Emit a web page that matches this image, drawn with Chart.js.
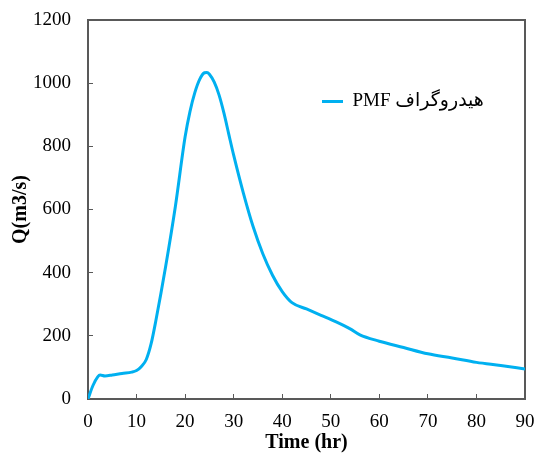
<!DOCTYPE html>
<html>
<head>
<meta charset="utf-8">
<script src="https://cdn.jsdelivr.net/npm/chart.js@4"></script>
<style>
  body { margin: 0; background: #fff; }
  canvas { display: block; }
</style>
</head>
<body>
<canvas id="hydro" width="536" height="456"></canvas>
<script>
// hydrograph
const timeHr = [0, 1, 2, 2.5, 3.5, 5, 7, 9, 10, 11, 12, 13, 14, 16, 18, 20, 21, 22, 23, 24, 24.5, 25, 26, 27, 28, 29, 30, 32, 34, 36, 38, 40, 42, 45, 48, 51, 54, 56, 60, 65, 70, 75, 80, 85, 90];
const flowQ = [0, 42, 70, 76, 73, 76, 81, 85, 90, 103, 125, 175, 250, 420, 610, 830, 910, 970, 1012, 1033, 1034, 1028, 1003, 962, 905, 838, 772, 652, 546, 460, 392, 340, 305, 285, 265, 245, 222, 203, 183, 163, 143, 130, 116, 106, 95];
const xTicks = [0, 10, 20, 30, 40, 50, 60, 70, 80, 90];
const yTicks = [0, 200, 400, 600, 800, 1000, 1200];
const seriesLabel = "هیدروگراف PMF";

const serif = "'Liberation Serif', 'DejaVu Sans', serif";
const axisGray = "#595959";

const points = timeHr.map((t, i) => ({ x: t, y: flowQ[i] }));

// outline around the plot area
const frame = {
  id: "frame",
  beforeDatasetsDraw(chart) {
    const a = chart.chartArea;
    const ctx = chart.ctx;
    ctx.save();
    ctx.strokeStyle = axisGray;
    ctx.lineWidth = 2;
    ctx.strokeRect(a.left, a.top, a.right - a.left, a.bottom - a.top);
    ctx.restore();
  }
};

// move the legend into the upper right of the plot
const legendSpot = {
  id: "legendSpot",
  afterLayout(chart) {
    const lg = chart.legend;
    const w = lg.right - lg.left, h = lg.bottom - lg.top;
    lg.left = 312;
    lg.top = 82;
    lg.right = lg.left + w;
    lg.bottom = lg.top + h;
  }
};

new Chart(document.getElementById("hydro"), {
  type: "line",
  data: {
    datasets: [{
      label: seriesLabel,
      data: points,
      borderColor: "#00B0F0",
      backgroundColor: "#00B0F0",
      borderWidth: 3,
      pointRadius: 0,
      fill: false,
      cubicInterpolationMode: "monotone"
    }]
  },
  options: {
    responsive: false,
    animation: false,
    layout: { padding: { top: 20, right: 11, left: 0, bottom: 0 } },
    plugins: {
      legend: {
        position: "chartArea",
        align: "start",
        textDirection: "rtl",
        labels: {
          usePointStyle: true,
          pointStyle: "line",
          pointStyleWidth: 21,
          boxHeight: 20,
          padding: 10,
          color: "#000",
          font: { family: serif, size: 19 }
        }
      },
      tooltip: { enabled: false }
    },
    scales: {
      x: {
        type: "linear",
        min: 0,
        max: 90,
        afterBuildTicks: s => { s.ticks = xTicks.map(v => ({ value: v })); },
        afterFit: s => { s.height = 57; s.paddingLeft = 0; s.paddingRight = 0; },
        grid: { drawOnChartArea: false, tickLength: -5, color: axisGray },
        border: { display: false },
        ticks: { color: "#000", padding: 17, font: { family: serif, size: 19 }, callback: v => String(v) },
        title: {
          display: true,
          text: "Time (hr)",
          color: "#000",
          padding: { top: 0, bottom: 1 },
          font: { family: serif, size: 20, weight: "bold" }
        }
      },
      y: {
        min: 0,
        max: 1200,
        afterBuildTicks: s => { s.ticks = yTicks.map(v => ({ value: v })); },
        afterFit: s => { s.width = 88; s.paddingTop = 0; s.paddingBottom = 0; },
        grid: { drawOnChartArea: false, tickLength: -5, color: axisGray },
        border: { display: false },
        ticks: { color: "#000", padding: 22, font: { family: serif, size: 19 }, callback: v => String(v) },
        title: {
          display: true,
          text: "Q(m3/s)",
          color: "#000",
          padding: { top: 9, bottom: 0 },
          font: { family: serif, size: 20, weight: "bold" }
        }
      }
    }
  },
  plugins: [frame, legendSpot]
});
</script>
</body>
</html>
